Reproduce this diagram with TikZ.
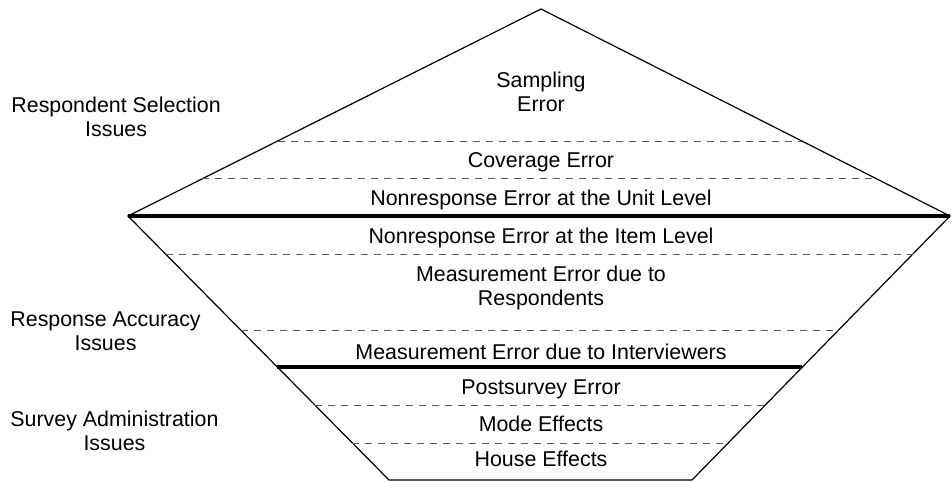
\documentclass[tikz,border=0pt]{standalone}
\usepackage{fontspec}
\setmainfont{Liberation Sans}
\usepackage{tikz}
\usetikzlibrary{calc}
\tikzset{
  layer/.style={anchor=base, inner sep=0pt, align=center, font=\fontsize{10.7}{12}\selectfont},
  issue/.style={anchor=base west, inner sep=0pt, align=center, font=\fontsize{10.7}{12}\selectfont},
  split/.style={black!65, line width=.5pt, dash pattern=on 3.5pt off 3pt},
  bound/.style={line width=2pt}
}

\begin{document}
\begin{tikzpicture}[x=.5pt, y=-.5pt]
    \useasboundingbox (0, 0) rectangle (951, 481);
    \coordinate (apex) at (541, 9);
    \coordinate (lp) at (128, 216);
    \coordinate (rp) at (950, 216);
    \coordinate (bl) at (389, 480);
    \coordinate (br) at (692, 480);
    \draw[line width=.6pt](apex)--(lp)--(bl)--(br)--(rp)--cycle;
    \draw[bound](lp)--(rp);
    \draw[split]($(apex)!.638!(lp)$)--($(apex)!.638!(rp)$);
    \draw[split]($(apex)!.821!(lp)$)--($(apex)!.821!(rp)$);
    \draw[split]($(lp)!.144!(bl)$)--($(rp)!.144!(br)$);
    \draw[split]($(lp)!.432!(bl)$)--($(rp)!.432!(br)$);
    \draw[bound]($(lp)!.572!(bl)$)--($(rp)!.572!(br)$);
    \draw[split]($(lp)!.716!(bl)$)--($(rp)!.716!(br)$);
    \draw[split]($(lp)!.860!(bl)$)--($(rp)!.860!(br)$);
    \node[layer](sampling) at (541, 112){Sampling\\Error};
    \node[layer](coverage) at (541, 167){Coverage Error};
    \node[layer](unit) at (541, 205){Nonresponse Error at the Unit Level};
    \node[layer](item) at (541, 243){Nonresponse Error at the Item Level};
    \node[layer](respondents) at (541, 305){Measurement Error due to\\Respondents};
    \node[layer](interviewers) at (541, 359){Measurement Error due to Interviewers};
    \node[layer](postsurvey) at (541, 394){Postsurvey Error};
    \node[layer](mode) at (541, 431){Mode Effects};
    \node[layer](house) at (541, 466){House Effects};
    \node[issue](selection) at (11, 136){Respondent Selection\\Issues};
    \node[issue](accuracy) at (10, 350){Response Accuracy\\Issues};
    \node[issue](administration) at (10, 450){Survey Administration\\Issues};
\end{tikzpicture}
\end{document}
